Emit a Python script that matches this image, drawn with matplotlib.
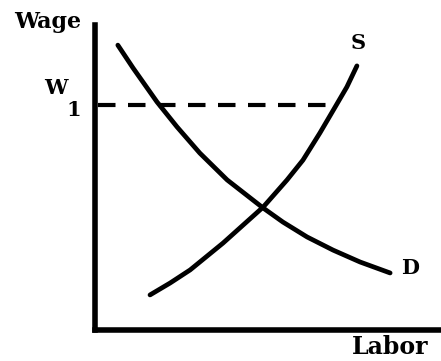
import matplotlib
matplotlib.use("Agg")
import matplotlib.pyplot as plt

# demand curve (labor, wage)
demand_x = [0.66, 1.10, 1.79, 2.37, 3.03, 3.82, 4.86, 5.43, 6.13, 6.88, 7.66, 8.53]
demand_y = [9.34, 8.59, 7.48, 6.66, 5.80, 4.92, 4.00, 3.54, 3.05, 2.62, 2.23, 1.87]

# supply curve
supply_x = [1.59, 2.17, 2.75, 3.70, 4.86, 5.55, 6.01, 6.50, 6.94, 7.28, 7.57]
supply_y = [1.15, 1.54, 1.97, 2.85, 4.03, 4.92, 5.57, 6.46, 7.31, 7.97, 8.66]

# wage level W1 and where it meets supply
w1 = 7.38
w1_end = 6.92

fig = plt.figure(figsize=(4.41, 3.61), dpi=100)
ax = fig.add_axes([95 / 441, 31 / 361, 346 / 441, 305 / 361])
ax.set_xlim(0, 10)
ax.set_ylim(0, 10)

font = dict(family="DejaVu Serif", weight="bold", color="black")

ax.plot(demand_x, demand_y, color="black", lw=3.4, solid_capstyle="round",
        solid_joinstyle="round")
ax.plot(supply_x, supply_y, color="black", lw=3.4, solid_capstyle="round",
        solid_joinstyle="round")
ax.plot([0.1, w1_end], [w1, w1], color="black", lw=3.0,
        linestyle=(0, (4.2, 3.0)))

for s in ["top", "right"]:
    ax.spines[s].set_visible(False)
for s in ["left", "bottom"]:
    ax.spines[s].set_linewidth(4.0)
    ax.spines[s].set_capstyle("projecting")
ax.set_xticks([])
ax.set_yticks([])

ax.text(-1.36, 10.1, "Wage", ha="center", va="center", fontsize=16, clip_on=False, **font)
ax.text(-1.13, 7.93, "W", ha="center", va="center", fontsize=15, clip_on=False, **font)
ax.text(-0.61, 7.2, "1", ha="center", va="center", fontsize=15, clip_on=False, **font)
ax.text(7.60, 9.41, "S", ha="center", va="center", fontsize=15, clip_on=False, **font)
ax.text(9.10, 2.03, "D", ha="center", va="center", fontsize=15, clip_on=False, **font)
ax.text(8.53, -0.56, "Labor", ha="center", va="center", fontsize=17, clip_on=False, **font)

fig.savefig("out.png", dpi=100)
